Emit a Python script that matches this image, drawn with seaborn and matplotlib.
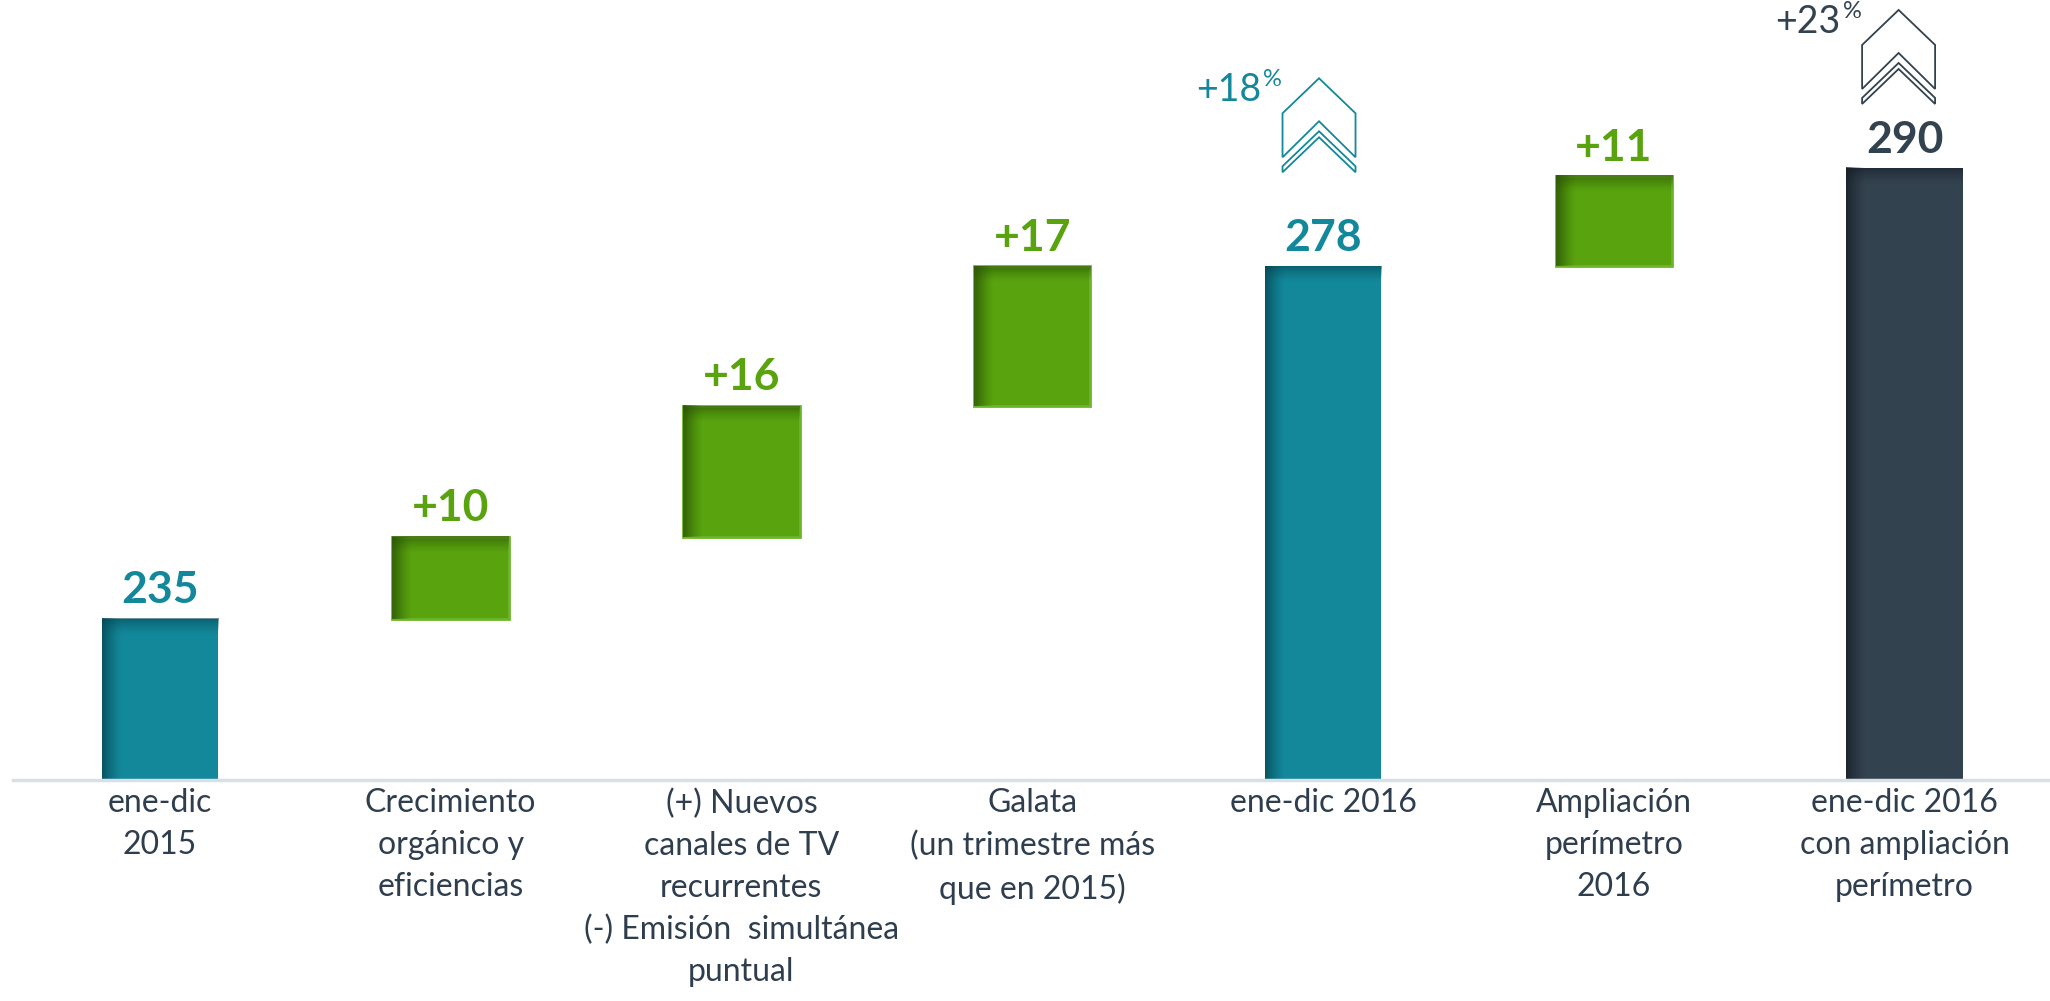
import numpy as np
import pandas as pd
import matplotlib
matplotlib.use('Agg')
import matplotlib.pyplot as plt
import matplotlib.transforms as mtransforms
from matplotlib.patches import Polygon
import seaborn as sns

# data
categories = ['ene-dic\n2015',
              'Crecimiento\norgánico y\neficiencias',
              '(+) Nuevos\ncanales de TV\nrecurrentes\n(-) Emisión  simultánea\npuntual',
              'Galata\n(un trimestre más\nque en 2015)',
              'ene-dic 2016',
              'Ampliación\nperímetro\n2016',
              'ene-dic 2016\ncon ampliación\nperímetro']
values = [235, 10, 16, 17, 278, 11, 290]
kinds = ['total', 'delta', 'delta', 'delta', 'total', 'delta', 'total']
value_labels = ['235', '+10', '+16', '+17', '278', '+11', '290']
growth_labels = {4: '+18', 6: '+23'}

TEAL = '#12889A'
GREEN = '#58A30E'
DARK = '#33424F'
TEXT = '#2F3E4E'
bar_colors = [TEAL, GREEN, GREEN, GREEN, TEAL, GREEN, DARK]
shade_colors = [(0.02, 0.28, 0.33), (0.16, 0.31, 0.02), (0.16, 0.31, 0.02), (0.16, 0.31, 0.02),
                (0.02, 0.28, 0.33), (0.16, 0.31, 0.02), (0.09, 0.12, 0.15)]

# waterfall: deltas start at the running total, totals start at zero
bottoms = []
running = 0
for v, k in zip(values, kinds):
    if k == 'total':
        bottoms.append(0)
        running = v
    else:
        bottoms.append(running)
        running += v
tops = [b + v for b, v in zip(bottoms, values)]

df = pd.DataFrame({'category': categories, 'value': values, 'bottom': bottoms})

sns.set_style('white')
plt.rcParams['font.family'] = ['Lato', 'DejaVu Sans']

W, H = 2050, 1001
YLIM = (215.3, 310.5)
fig = plt.figure(figsize=(W / 100, H / 100), dpi=100)
ax = fig.add_axes([13 / W, 1 - 780 / H, 1 - 13 / W, 780 / H])

sns.barplot(data=df, x='category', y='value', bottom=df['bottom'].to_numpy(),
            color=TEAL, width=0.40, ax=ax, zorder=2)

ax.set_xlim(-0.505, 6.5)
ax.set_ylim(*YLIM)

for p, c, k in zip(ax.patches, bar_colors, kinds):
    p.set_facecolor(c)
    if k == 'delta':
        p.set_edgecolor('#6CB52C')
        p.set_linewidth(2)
    else:
        p.set_edgecolor('none')

# inner shadow on left and top edge of each bar
ylo, yhi = ax.get_ylim()
px_per_unit = ax.transData.transform((0, 1))[1] - ax.transData.transform((0, 0))[1]
for p, sc in zip(ax.patches, shade_colors):
    x0, w = p.get_x(), p.get_width()
    y0 = max(p.get_y(), ylo)
    y1 = p.get_y() + p.get_height()
    n = 64
    ramp = np.linspace(0.85, 0.0, n) ** 1.3
    img = np.zeros((1, n, 4))
    img[..., :3] = sc
    img[0, :, 3] = ramp
    ax.imshow(img, extent=(x0, x0 + w * 0.17, y0, y1), aspect='auto',
              interpolation='bilinear', zorder=3)
    top_h = 16 / px_per_unit
    img2 = np.zeros((n, 1, 4))
    img2[..., :3] = sc
    img2[:, 0, 3] = ramp * 0.75
    ax.imshow(img2, extent=(x0, x0 + w, y1 - top_h, y1), aspect='auto',
              interpolation='bilinear', zorder=3, origin='upper')

ax.set_xlim(-0.505, 6.5)
ax.set_ylim(*YLIM)

# value labels above bars
for i, (t, lab, c) in enumerate(zip(tops, value_labels, bar_colors)):
    ax.annotate(lab, (i, t), xytext=(0, 11), textcoords='offset points',
                ha='center', va='baseline', fontsize=32, fontweight='bold', color=c)

# axis styling
for s in ['top', 'right', 'left']:
    ax.spines[s].set_visible(False)
ax.spines['bottom'].set_color('#D8E0E7')
ax.spines['bottom'].set_linewidth(2.5)
ax.spines['bottom'].set_zorder(4)
ax.set_yticks([])
ax.set_xlabel('')
ax.set_ylabel('')
ax.tick_params(axis='x', length=0, pad=6, labelsize=23, labelcolor=TEXT)
for lab in ax.get_xticklabels():
    lab.set_linespacing(1.5)
    lab.set_verticalalignment('top')

# growth chevrons over the total bars (drawn in pixels from the bar top)
ident = mtransforms.IdentityTransform()
chev = {4: dict(apex=188, dx=-4, color=TEAL), 6: dict(apex=158, dx=-6, color=DARK)}
for i, lab in growth_labels.items():
    cfg = chev[i]
    bx, by = ax.transData.transform((i, tops[i]))
    cx = bx + cfg['dx']
    ay = by + cfg['apex']
    hw = 36.5
    outer = [(cx - hw, ay - 35), (cx, ay), (cx + hw, ay - 35), (cx + hw, ay - 79),
             (cx, ay - 43), (cx - hw, ay - 79)]
    band = [(cx - hw, ay - 88), (cx, ay - 53), (cx + hw, ay - 88), (cx + hw, ay - 94),
            (cx, ay - 59), (cx - hw, ay - 94)]
    for pts in (outer, band):
        fig.add_artist(Polygon(pts, closed=True, transform=ident, fill=False,
                               edgecolor=cfg['color'], lw=1.3))
    fig.text(cx - 58, ay - 23, lab, transform=ident, ha='right', va='baseline',
             fontsize=27, color=cfg['color'])
    fig.text(cx - 56, ay + 9, '%', transform=ident, ha='left', va='top',
             fontsize=17, color=cfg['color'])

fig.savefig('out.png', dpi=100, facecolor='white')
